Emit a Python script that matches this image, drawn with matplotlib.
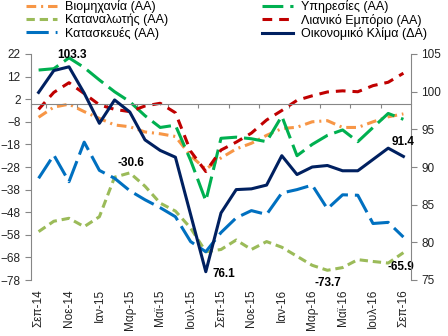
import matplotlib
matplotlib.use("Agg")
import matplotlib.pyplot as plt

plt.rcParams['font.family'] = ['Liberation Sans', 'DejaVu Sans']
plt.rcParams['lines.scale_dashes'] = False

# Monthly survey data, Sep-14 .. Sep-16
months = ['Σεπ-14', 'Οκτ-14', 'Νοε-14', 'Δεκ-14', 'Ιαν-15', 'Φεβ-15', 'Μαρ-15',
          'Απρ-15', 'Μαϊ-15', 'Ιουν-15', 'Ιουλ-15', 'Αυγ-15', 'Σεπ-15', 'Οκτ-15',
          'Νοε-15', 'Δεκ-15', 'Ιαν-16', 'Φεβ-16', 'Μαρ-16', 'Απρ-16', 'Μαϊ-16',
          'Ιουν-16', 'Ιουλ-16', 'Αυγ-16', 'Σεπ-16']
industry = [-6.0, -1.5, -0.2, -3.5, -6.5, -9.4, -10.2, -12.5, -13.3, -14.5, -23.0, -29.0,
            -24.0, -20.0, -17.5, -14.0, -11.0, -10.4, -8.0, -7.5, -10.5, -10.5, -8.0, -5.8, -4.5]
services = [14.9, 15.5, 20.3, 16.0, 10.5, 5.3, 0.9, -5.3, -10.5, -9.5, -25.0, -43.0,
            -15.3, -14.8, -15.5, -16.8, -5.5, -23.0, -18.0, -14.0, -11.6, -16.8, -10.5, -4.3, -6.9]
consumer = [-56.6, -52.0, -50.7, -54.4, -50.0, -32.5, -30.6, -36.5, -44.0, -47.5, -55.0, -65.5,
            -64.5, -60.3, -64.5, -61.0, -63.5, -67.5, -71.5, -73.7, -72.5, -69.0, -69.8, -70.5, -65.9]
retail = [-2.5, 5.0, 9.3, 4.5, -0.5, -2.5, -3.5, -1.0, 0.2, -4.0, -21.0, -30.0,
          -20.5, -17.0, -13.0, -7.2, -3.0, 1.5, 3.5, 5.2, 5.7, 5.3, 8.0, 9.5, 13.5]
construction = [-33.0, -22.7, -34.5, -17.0, -29.5, -33.0, -38.5, -42.5, -46.0, -50.0, -61.0, -65.5,
                -57.0, -50.5, -47.3, -49.0, -39.5, -38.0, -36.0, -46.5, -40.3, -40.5, -53.0, -52.5, -59.0]
climate = [99.9, 102.8, 103.3, 99.8, 95.8, 98.9, 97.3, 93.6, 92.2, 91.3, 83.7, 76.1,
           83.9, 87.0, 87.1, 87.6, 91.5, 89.0, 90.0, 90.2, 89.5, 89.5, 91.0, 92.5, 91.4]

gray = '#868686'
x = list(range(len(months)))

fig = plt.figure(figsize=(4.48, 3.36), dpi=100)
ax = fig.add_axes([31 / 448, 1 - 280 / 336, 380 / 448, 226 / 336])
ax2 = ax.twinx()

lw = 2.2
l1, = ax.plot(x, industry, color='#F79646', lw=lw, dashes=(7, 3.5, 1.5, 3.5), label='Βιομηχανία (ΑΑ)')
l2, = ax.plot(x, services, color='#00B050', lw=lw, dashes=(15, 5), label='Υπηρεσίες (ΑΑ)')
l3, = ax.plot(x, consumer, color='#9BBB59', lw=lw, dashes=(6, 3.5), label='Καταναλωτής (ΑΑ)')
l4, = ax.plot(x, retail, color='#C00000', lw=lw, dashes=(7, 5), label='Λιανικό Εμπόριο (ΑΑ)')
l5, = ax.plot(x, construction, color='#0070C0', lw=lw, dashes=(16, 5), label='Κατασκευές (ΑΑ)')
l6, = ax2.plot(x, climate, color='#002060', lw=lw, label='Οικονομικό Κλίμα (ΔΑ)')

ax.set_xlim(-0.5, len(months) - 0.5)
ax.set_ylim(-78, 22)
ax.set_yticks(range(-78, 23, 10))
ax2.set_ylim(75, 105)
ax2.set_yticks(range(75, 106, 5))

# horizontal axis crosses at 0, category labels stay at the bottom
ax.spines['bottom'].set_position(('data', 0))
ax.set_xticks([b - 0.5 for b in range(1, len(months), 2)] + [-0.5])
ax.tick_params(axis='x', labelbottom=False, length=3, color=gray)
for i in range(0, len(months), 2):
    ax.text(i, -0.04, months[i], transform=ax.get_xaxis_transform(), rotation=90,
            ha='center', va='top', fontsize=8.5, color='#222222')

for s in ['top', 'right']:
    ax.spines[s].set_visible(False)
for s in ['top', 'left', 'bottom']:
    ax2.spines[s].set_visible(False)
ax.spines['left'].set_color(gray)
ax.spines['bottom'].set_color(gray)
ax2.spines['right'].set_color(gray)
ax.tick_params(axis='y', length=4, color=gray, labelsize=8.5, labelcolor='#222222')
ax2.tick_params(axis='y', length=4, color=gray, labelsize=8.5, labelcolor='#222222')

# data labels
bold = dict(fontsize=8.5, fontweight='bold', textcoords='offset points')
ax2.annotate('103.3', (2, climate[2]), xytext=(2, 4), ha='center', va='bottom', **bold)
ax.annotate('-30.6', (6, consumer[6]), xytext=(1, 3), ha='center', va='bottom', **bold)
ax2.annotate('76.1', (11, climate[11]), xytext=(5, -2), ha='left', va='center', **bold)
ax.annotate('-73.7', (19, consumer[19]), xytext=(0, -5), ha='center', va='top', **bold)
ax.annotate('-65.9', (24, consumer[24]), xytext=(-2, -6), ha='center', va='top', **bold)
ax2.annotate('91.4', (24, climate[24]), xytext=(0, 6), ha='center', va='bottom', **bold)

leg_kw = dict(loc='upper left', frameon=False, fontsize=9, handlelength=2.5,
              handletextpad=0.64, labelspacing=0.05, borderaxespad=0, borderpad=0)
fig.legend(handles=[l1, l3, l5], bbox_to_anchor=(26 / 448, 1.0), **leg_kw)
fig.legend(handles=[l2, l4, l6], bbox_to_anchor=(262 / 448, 1.0), **leg_kw)

fig.savefig('out.png', dpi=100)
